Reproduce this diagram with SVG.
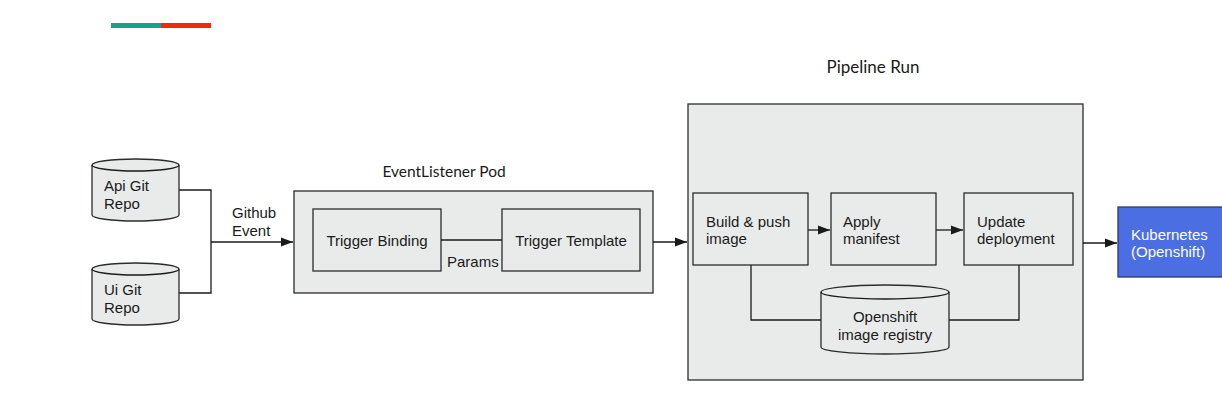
<svg xmlns="http://www.w3.org/2000/svg" width="1222" height="409" viewBox="0 0 1222 409">
<defs>
<style>
.box{fill:#e9ebeb;stroke:#2b2b2b;stroke-width:1.3}
.t{font-family:"Liberation Sans",Arial,sans-serif;font-size:15px;fill:#1a1a1a}
.title{font-family:Lato,"Liberation Sans",sans-serif;font-size:17px;fill:#1a1a1a}
.ln{fill:none;stroke:#1a1a1a;stroke-width:1.3}
</style>
<marker id="ah" viewBox="0 0 12 10" refX="12" refY="5" markerWidth="12" markerHeight="10" markerUnits="userSpaceOnUse" orient="auto">
<path d="M0,0.5 L12,5 L0,9.5 z" fill="#1a1a1a"/>
</marker>
</defs>
<rect width="1222" height="409" fill="#ffffff"/>
<g id="brand-bar">
<rect x="111" y="23" width="50" height="5" fill="#14a48c"/>
<rect x="161" y="23" width="50" height="5" fill="#f5290a"/>
</g>
<g id="pipeline-run">
<rect class="box" x="688" y="104" width="395" height="276"/>
<text class="title" x="873" y="73" text-anchor="middle">Pipeline Run</text>
</g>
<g id="eventlistener-pod">
<rect class="box" x="294" y="191" width="359" height="102"/>
<text class="title" x="444" y="177" text-anchor="middle" style="font-size:15.5px">EventListener Pod</text>
</g>
<g id="connectors">
<path class="ln" d="M179,190 H211 V293 H179"/>
<path class="ln" d="M211,242 H293" marker-end="url(#ah)"/>
<path class="ln" d="M441,240 H502"/>
<path class="ln" d="M653,242 H687" marker-end="url(#ah)"/>
<path class="ln" d="M808,230 H830" marker-end="url(#ah)"/>
<path class="ln" d="M936,230 H963" marker-end="url(#ah)"/>
<path class="ln" d="M751,265 V320 H821"/>
<path class="ln" d="M1019,265 V320 H949"/>
<path class="ln" d="M1083,243 H1117" marker-end="url(#ah)"/>
<text class="t" x="232" y="218">Github</text>
<text class="t" x="232" y="236">Event</text>
<text class="t" x="447" y="267">Params</text>
</g>
<g id="api-git-repo">
<path class="box" d="M92,165 V215 A43.5,6 0 0 0 179,215 V165 A43.5,6 0 0 0 92,165 Z"/>
<path class="ln" d="M92,165 A43.5,6 0 0 0 179,165"/>
<text class="t" x="104" y="191">Api Git</text>
<text class="t" x="104" y="209">Repo</text>
</g>
<g id="ui-git-repo">
<path class="box" d="M92,269 V319 A43.5,6 0 0 0 179,319 V269 A43.5,6 0 0 0 92,269 Z"/>
<path class="ln" d="M92,269 A43.5,6 0 0 0 179,269"/>
<text class="t" x="104" y="295">Ui Git</text>
<text class="t" x="104" y="313">Repo</text>
</g>
<g id="trigger-binding">
<rect class="box" x="313" y="209" width="128" height="62"/>
<text class="t" x="377" y="246" text-anchor="middle">Trigger Binding</text>
</g>
<g id="trigger-template">
<rect class="box" x="502" y="209" width="138" height="62"/>
<text class="t" x="571" y="246" text-anchor="middle">Trigger Template</text>
</g>
<g id="build-push">
<rect class="box" x="693" y="193" width="115" height="72"/>
<text class="t" x="706" y="227">Build &amp; push</text>
<text class="t" x="706" y="244">image</text>
</g>
<g id="apply-manifest">
<rect class="box" x="831" y="193" width="105" height="72"/>
<text class="t" x="843" y="227">Apply</text>
<text class="t" x="843" y="244">manifest</text>
</g>
<g id="update-deployment">
<rect class="box" x="964" y="193" width="109" height="72"/>
<text class="t" x="977" y="227">Update</text>
<text class="t" x="977" y="244">deployment</text>
</g>
<g id="image-registry">
<path class="box" d="M821,292 V347 A64,7 0 0 0 949,347 V292 A64,7 0 0 0 821,292 Z"/>
<path class="ln" d="M821,292 A64,7 0 0 0 949,292"/>
<text class="t" x="885" y="322" text-anchor="middle">Openshift</text>
<text class="t" x="885" y="340" text-anchor="middle">image registry</text>
</g>
<g id="kubernetes">
<rect x="1118" y="207" width="106" height="70" fill="#4b6ee2" stroke="#2b3a6a" stroke-width="1.3"/>
<text class="t" x="1131" y="240" style="fill:#ffffff">Kubernetes</text>
<text class="t" x="1131" y="257" style="fill:#ffffff">(Openshift)</text>
</g>
</svg>
